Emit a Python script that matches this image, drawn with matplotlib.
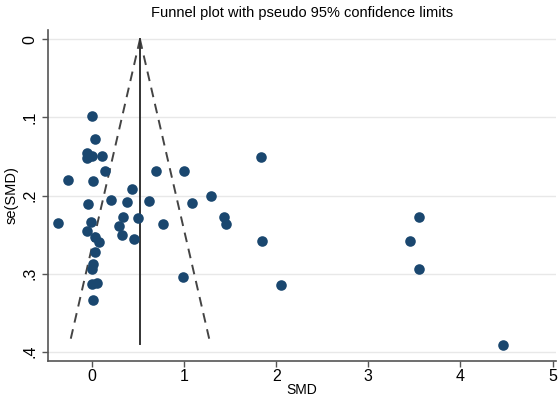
import numpy as np
import matplotlib
matplotlib.use('Agg')
from matplotlib import pyplot as plt

plt.rcParams['font.family'] = ['Liberation Sans', 'DejaVu Sans']

# study effect sizes (SMD) and their standard errors
smd = [0.00, 0.03, -0.05, -0.03, 0.00, -0.05, 0.105, 0.145, -0.26, 0.015,
       0.69, 1.00, 1.83, 0.43, 1.29, -0.04, 0.20, 0.38, 0.62, 1.09,
       -0.37, -0.01, 0.29, 0.34, 0.50, 0.77, 1.43, 1.45, -0.05, 0.32,
       0.46, 0.03, 0.08, 0.03, 0.007, 0.00, 0.00, 0.05, 0.007, 0.99,
       1.85, 3.55, 3.45, 3.55, 2.05, 4.46]
se = [0.098, 0.128, 0.146, 0.150, 0.149, 0.152, 0.150, 0.168, 0.180, 0.182,
      0.169, 0.169, 0.151, 0.192, 0.200, 0.211, 0.206, 0.208, 0.207, 0.209,
      0.235, 0.234, 0.239, 0.228, 0.229, 0.237, 0.228, 0.237, 0.245, 0.251,
      0.256, 0.253, 0.260, 0.273, 0.288, 0.294, 0.314, 0.312, 0.334, 0.305,
      0.258, 0.227, 0.258, 0.294, 0.315, 0.392]

pooled = 0.52
se_max = 0.39

xticks = [0, 1, 2, 3, 4, 5]
yticks = [0, 0.1, 0.2, 0.3, 0.4]
ylabels = ['0', '.1', '.2', '.3', '.4']

fig = plt.figure(figsize=(5.59, 4.0), dpi=100)
ax = fig.add_axes([0.086, 0.0975, 0.909, 0.8275])

for v in yticks:
    ax.axhline(v, color='#e8e8e8', lw=1.0, zorder=0)

s_line = np.array([0, se_max])
ax.plot(pooled - 1.96 * s_line, s_line, color='#444444', ls=(0, (5, 3.5)), lw=1.4)
ax.plot(pooled + 1.96 * s_line, s_line, color='#444444', ls=(0, (5, 3.5)), lw=1.4)
ax.plot([pooled, pooled], [0, se_max], color='#333333', lw=1.4)

ax.scatter(smd, se, s=58, color='#1a476f', zorder=3, linewidths=0)

ax.set_xlim(-0.478, 5.04)
ax.set_ylim(0.412, -0.012)
ax.set_xticks(xticks)
ax.set_yticks(yticks)
ax.set_yticklabels(ylabels, rotation=90, va='center')
ax.tick_params(labelsize=11.5, color='#555555', length=4, width=1.0)
ax.tick_params(axis='x', pad=2)
ax.set_xlabel('SMD', fontsize=10, labelpad=-1)
ax.set_ylabel('se(SMD)', fontsize=10.5, labelpad=3)
ax.set_title('Funnel plot with pseudo 95% confidence limits', fontsize=10.5, pad=9)

for sp in ['top', 'right']:
    ax.spines[sp].set_visible(False)
for sp in ['left', 'bottom']:
    ax.spines[sp].set_color('#555555')
    ax.spines[sp].set_linewidth(1.2)

fig.savefig('out.png', dpi=100)
